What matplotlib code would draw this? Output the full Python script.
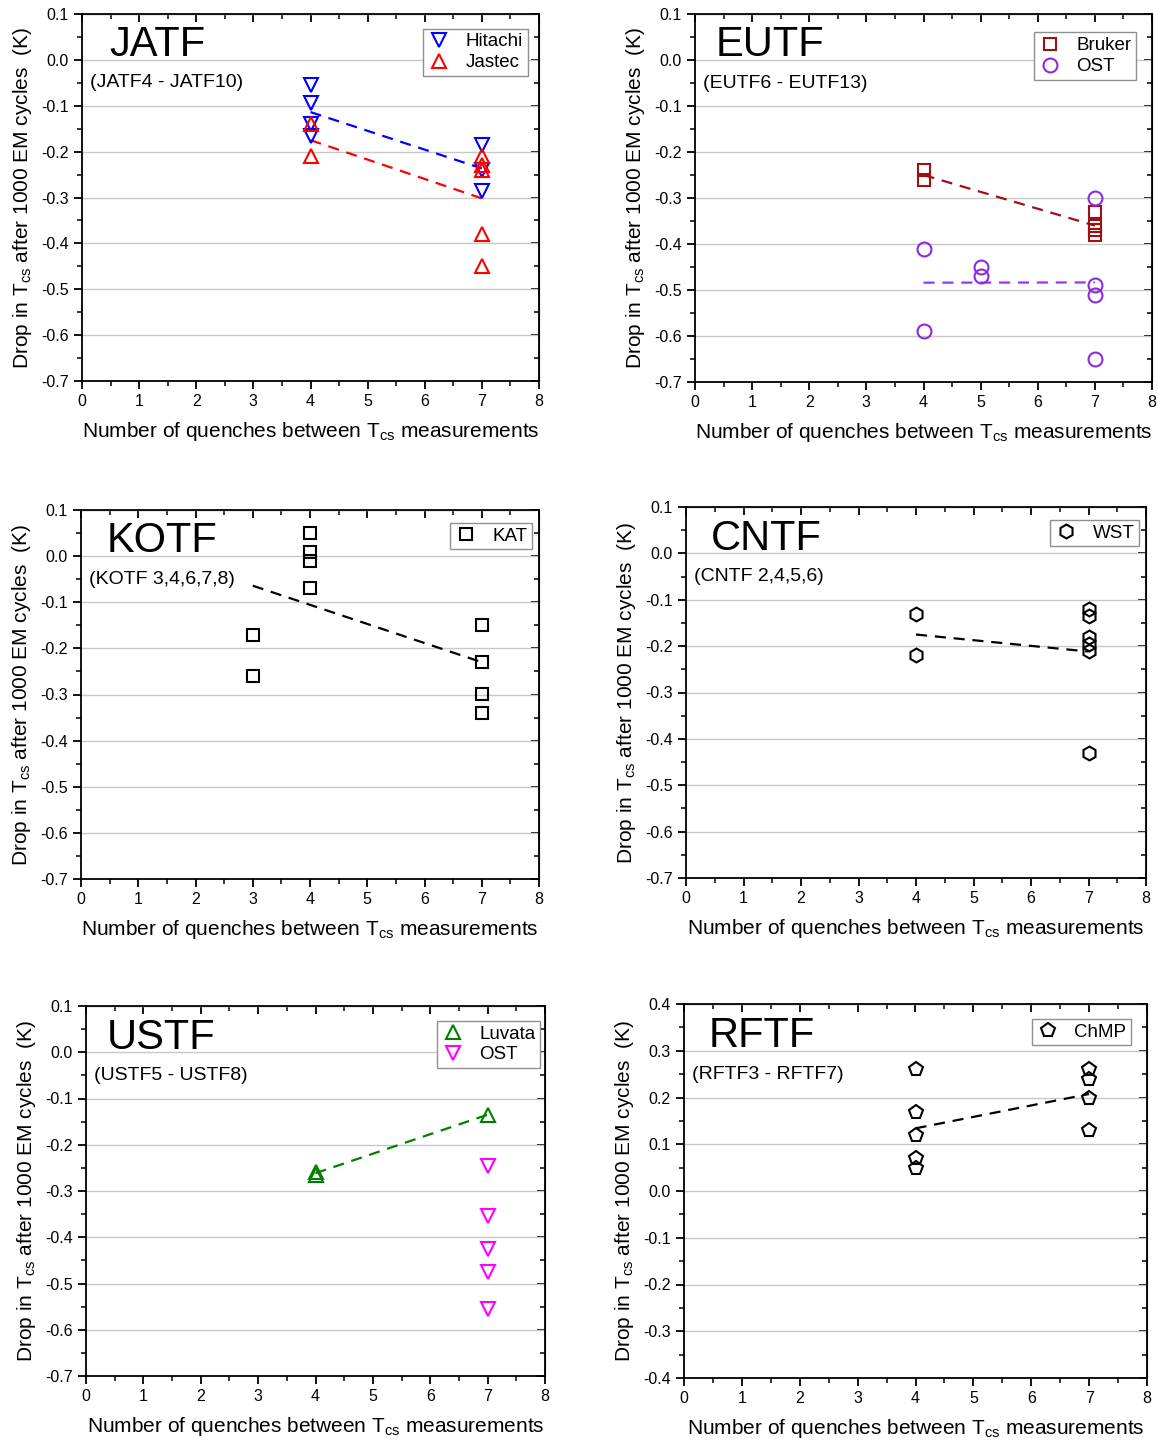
import numpy as np
import matplotlib
matplotlib.use('Agg')
import matplotlib.pyplot as plt
from matplotlib.ticker import MultipleLocator

plt.rcParams['font.family'] = ['Liberation Sans', 'DejaVu Sans']
plt.rcParams['mathtext.fontset'] = 'custom'
plt.rcParams['mathtext.rm'] = 'Liberation Sans'
plt.rcParams['mathtext.it'] = 'Liberation Sans:italic'

# ---- data ----
# JATF
jatf_hit_x = [4, 4, 4, 4, 7, 7, 7]
jatf_hit_y = [-0.055, -0.095, -0.14, -0.165, -0.185, -0.24, -0.285]
jatf_jas_x = [4, 4, 7, 7, 7, 7, 7]
jatf_jas_y = [-0.14, -0.21, -0.21, -0.23, -0.24, -0.38, -0.45]
# EUTF
eutf_bru_x = [4, 4, 7, 7, 7, 7]
eutf_bru_y = [-0.24, -0.26, -0.33, -0.36, -0.37, -0.38]
eutf_ost_x = [4, 4, 5, 5, 7, 7, 7, 7]
eutf_ost_y = [-0.41, -0.59, -0.45, -0.47, -0.30, -0.49, -0.51, -0.65]
# KOTF
kotf_kat_x = [3, 3, 4, 4, 4, 4, 7, 7, 7, 7]
kotf_kat_y = [-0.17, -0.26, 0.05, 0.01, -0.01, -0.07, -0.15, -0.23, -0.30, -0.34]
# CNTF
cntf_wst_x = [4, 4, 7, 7, 7, 7, 7, 7]
cntf_wst_y = [-0.13, -0.22, -0.12, -0.135, -0.18, -0.195, -0.21, -0.43]
# USTF
ustf_luv_x = [4, 4, 7]
ustf_luv_y = [-0.258, -0.265, -0.135]
ustf_ost_x = [7, 7, 7, 7, 7]
ustf_ost_y = [-0.245, -0.355, -0.425, -0.475, -0.555]
# RFTF
rftf_chmp_x = [4, 4, 4, 4, 4, 7, 7, 7, 7]
rftf_chmp_y = [0.26, 0.17, 0.12, 0.07, 0.05, 0.26, 0.24, 0.20, 0.13]

xlab = 'Number of quenches between T$_{\\rm cs}$ measurements'
ylab = 'Drop in T$_{\\rm cs}$ after 1000 EM cycles  (K)'

W, H = 1158, 1443
fig = plt.figure(figsize=(W / 100, H / 100), dpi=100)


def make_ax(l, r, t, b, ylim, ymaj=0.1):
    ax = fig.add_axes([l / W, 1 - b / H, (r - l) / W, (b - t) / H])
    ax.set_xlim(0, 8)
    ax.set_ylim(*ylim)
    ax.xaxis.set_major_locator(MultipleLocator(1))
    ax.xaxis.set_minor_locator(MultipleLocator(0.5))
    ax.yaxis.set_major_locator(MultipleLocator(ymaj))
    ax.yaxis.set_minor_locator(MultipleLocator(ymaj / 2))
    ax.yaxis.set_major_formatter(plt.FormatStrFormatter('%.1f'))
    ax.tick_params(which='major', direction='out', length=6, width=1.3, labelsize=11.5)
    ax.tick_params(which='minor', direction='out', length=3.5, width=1.1)
    ax.grid(axis='y', which='major', color='#c8c8c8', lw=1.0)
    ax.set_axisbelow(True)
    for s in ax.spines.values():
        s.set_linewidth(1.3)
    top = ax.secondary_xaxis('top')
    top.xaxis.set_major_locator(MultipleLocator(1))
    top.xaxis.set_minor_locator(MultipleLocator(0.5))
    top.tick_params(which='major', direction='in', length=6, width=1.3, labeltop=False)
    top.tick_params(which='minor', direction='in', length=3.5, width=1.1)
    right = ax.secondary_yaxis('right')
    right.yaxis.set_major_locator(MultipleLocator(ymaj))
    right.yaxis.set_minor_locator(MultipleLocator(ymaj / 2))
    right.tick_params(which='major', direction='in', length=6, width=1.3, labelright=False)
    right.tick_params(which='minor', direction='in', length=3.5, width=1.1)
    ax.set_xlabel(xlab, fontsize=15, labelpad=8)
    ax.set_ylabel(ylab, fontsize=15, labelpad=5)
    return ax


def series(ax, x, y, marker, color, label, ms=10):
    ax.plot(x, y, linestyle='none', marker=marker, ms=ms, mfc='none',
            mec=color, mew=1.5, label=label, zorder=3)


def fit(ax, x, y, color):
    p = np.polyfit(x, y, 1)
    xx = np.array([min(x), max(x)])
    ax.plot(xx, np.polyval(p, xx), '--', color=color, lw=1.6, dashes=(5, 3.5), zorder=2)


def titles(ax, big, small, bx=0.05):
    ax.text(bx, 0.885, big, transform=ax.transAxes, fontsize=30, va='baseline')
    ax.text(0.018, 0.80, small, transform=ax.transAxes, fontsize=14, va='baseline')


def legend(ax, anchor):
    lg = ax.legend(loc='upper right', bbox_to_anchor=anchor, fontsize=13.5,
                   fancybox=False, framealpha=1, edgecolor='#909090',
                   handlelength=1.2, handletextpad=0.8, borderpad=0.25,
                   labelspacing=0.2, borderaxespad=0)
    lg.get_frame().set_linewidth(1.0)


# JATF
ax = make_ax(82, 539, 14, 381, (-0.7, 0.1))
series(ax, jatf_hit_x, jatf_hit_y, 'v', '#0000ff', 'Hitachi')
series(ax, jatf_jas_x, jatf_jas_y, '^', '#ff0000', 'Jastec')
fit(ax, jatf_hit_x, jatf_hit_y, '#0000ff')
fit(ax, jatf_jas_x, jatf_jas_y, '#ff0000')
titles(ax, 'JATF', '(JATF4 - JATF10)', 0.06)
legend(ax, (0.975, 0.96))

# EUTF
ax = make_ax(695, 1152, 14, 382, (-0.7, 0.1))
series(ax, eutf_bru_x, eutf_bru_y, 's', '#a01010', 'Bruker', ms=9)
series(ax, eutf_ost_x, eutf_ost_y, 'o', '#8a2be2', 'OST', ms=10)
fit(ax, eutf_bru_x, eutf_bru_y, '#a01010')
fit(ax, eutf_ost_x, eutf_ost_y, '#9933ff')
titles(ax, 'EUTF', '(EUTF6 - EUTF13)', 0.045)
legend(ax, (0.965, 0.95))

# KOTF
ax = make_ax(81, 539, 510, 879, (-0.7, 0.1))
series(ax, kotf_kat_x, kotf_kat_y, 's', '#000000', 'KAT', ms=8)
fit(ax, kotf_kat_x, kotf_kat_y, '#000000')
titles(ax, 'KOTF', '(KOTF 3,4,6,7,8)', 0.055)
legend(ax, (0.985, 0.965))

# CNTF
ax = make_ax(686, 1146, 507, 878, (-0.7, 0.1))
series(ax, cntf_wst_x, cntf_wst_y, 'h', '#000000', 'WST', ms=10)
fit(ax, cntf_wst_x, cntf_wst_y, '#000000')
titles(ax, 'CNTF', '(CNTF 2,4,5,6)', 0.054)
legend(ax, (0.985, 0.965))

# USTF
ax = make_ax(86, 545, 1006, 1376, (-0.7, 0.1))
series(ax, ustf_luv_x, ustf_luv_y, '^', '#008000', 'Luvata')
series(ax, ustf_ost_x, ustf_ost_y, 'v', '#ff00ff', 'OST')
fit(ax, ustf_luv_x, ustf_luv_y, '#008000')
titles(ax, 'USTF', '(USTF5 - USTF8)', 0.046)
legend(ax, (0.99, 0.96))

# RFTF
ax = make_ax(684, 1147, 1004, 1378, (-0.4, 0.4))
series(ax, rftf_chmp_x, rftf_chmp_y, 'p', '#000000', 'ChMP', ms=10)
fit(ax, rftf_chmp_x, rftf_chmp_y, '#000000')
titles(ax, 'RFTF', '(RFTF3 - RFTF7)', 0.054)
legend(ax, (0.965, 0.96))

fig.savefig('out.png', dpi=100)
